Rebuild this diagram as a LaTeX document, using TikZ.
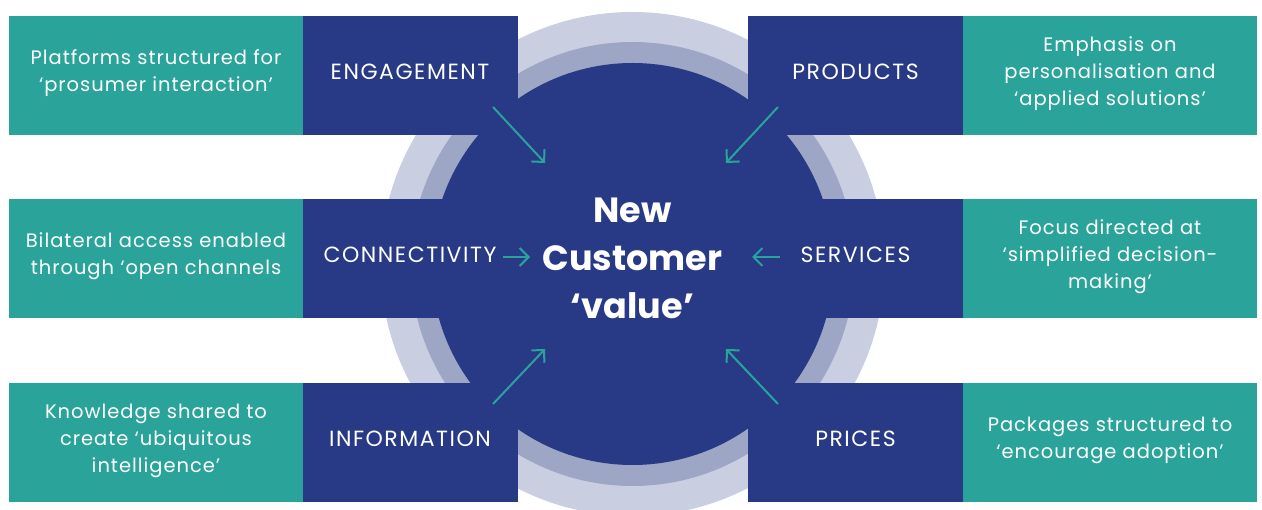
\documentclass[tikz,border=0pt]{standalone}
\usepackage{fontspec}
\setmainfont{Poppins}
\newfontfamily\boxfont[LetterSpace=5]{Poppins}
\newfontfamily\capsfont[LetterSpace=7]{Poppins}
\usetikzlibrary{arrows.meta}
\definecolor{navyc}{HTML}{283A85}
\definecolor{tealc}{HTML}{2AA39A}
\definecolor{ringlight}{HTML}{C9CEE1}
\definecolor{ringmid}{HTML}{9DA6C5}
\begin{document}
\begin{tikzpicture}[x=1pt,y=-1pt,
  tealbox/.style={fill=tealc, minimum width=294pt, minimum height=119pt, inner sep=0pt},
  navybox/.style={fill=navyc, minimum width=215pt, minimum height=119pt, inner sep=0pt},
  tealtext/.style={text=white, align=center, inner sep=0pt, font=\boxfont\fontsize{19.5}{27}\selectfont},
  navytext/.style={text=white, inner sep=0pt, font=\capsfont\fontsize{22}{24}\selectfont},
  arr/.style={draw=tealc, line width=2pt, -{Straight Barb[length=9pt,width=18pt,line width=2pt]}}
]
\useasboundingbox (0,0) rectangle (1262,510);
\clip (0,0) rectangle (1262,510);
\coordinate (c) at (632.5,264);
\fill[ringlight] (c) circle (252);
\fill[ringmid] (c) circle (222);
\fill[navyc] (c) circle (201);

% navy boxes
\node[navybox] (eng) at (410,75.5) {};
\node[navybox] (con) at (410,258.5) {};
\node[navybox] (inf) at (410,442.5) {};
\node[navybox] (pro) at (855.5,75.5) {};
\node[navybox] (ser) at (855.5,258.5) {};
\node[navybox] (pri) at (855.5,442.5) {};
\fill[navyc] (con.north east) rectangle (ser.south west);
\node[navytext] (engl) at ([yshift=4pt]eng.center) {ENGAGEMENT};
\node[navytext] (conl) at ([yshift=4pt]con.center) {CONNECTIVITY};
\node[navytext] (infl) at ([yshift=4pt]inf.center) {INFORMATION};
\node[navytext] (prol) at ([yshift=4pt]pro.center) {PRODUCTS};
\node[navytext] (serl) at ([yshift=4pt]ser.center) {SERVICES};
\node[navytext] (pril) at ([yshift=4pt]pri.center) {PRICES};

% teal boxes
\node[tealbox] (t1) at (156,75.5) {};
\node[tealbox] (t2) at (156,258.5) {};
\node[tealbox] (t3) at (156,442.5) {};
\node[tealbox] (t4) at (1110,75.5) {};
\node[tealbox] (t5) at (1110,258.5) {};
\node[tealbox] (t6) at (1110,442.5) {};
\node[tealtext] (t1l) at ([yshift=2pt]t1.center) {Platforms structured for\\‘prosumer interaction’};
\node[tealtext] (t2l) at ([yshift=2pt]t2.center) {Bilateral access enabled\\through ‘open channels};
\node[tealtext] (t3l) at ([yshift=2pt]t3.center) {Knowledge shared to\\create ‘ubiquitous\\intelligence’};
\node[tealtext] (t4l) at ([yshift=2pt]t4.center) {Emphasis on\\personalisation and\\‘applied solutions’};
\node[tealtext] (t5l) at ([yshift=2pt]t5.center) {Focus directed at\\‘simplified decision-\\making’};
\node[tealtext] (t6l) at ([yshift=2pt]t6.center) {Packages structured to\\‘encourage adoption’};

% centre
\node[text=white, align=center, font=\fontsize{35}{48}\bfseries\selectfont] (val) at (632.5,258) {New\\Customer\\‘value’};

% arrows
\coordinate (a1s) at (493,107); \coordinate (a1e) at (545,163);
\coordinate (a2s) at (778,107); \coordinate (a2e) at (726,163);
\coordinate (a3s) at (493,404); \coordinate (a3e) at (545,349);
\coordinate (a4s) at (778,404); \coordinate (a4e) at (726,349);
\coordinate (a5s) at (503,257); \coordinate (a5e) at (530,257);
\coordinate (a6s) at (780,257); \coordinate (a6e) at (752,257);
\draw[arr] (a1s) -- (a1e);
\draw[arr] (a2s) -- (a2e);
\draw[arr] (a3s) -- (a3e);
\draw[arr] (a4s) -- (a4e);
\draw[arr] (a5s) -- (a5e);
\draw[arr] (a6s) -- (a6e);
\end{tikzpicture}
\end{document}
